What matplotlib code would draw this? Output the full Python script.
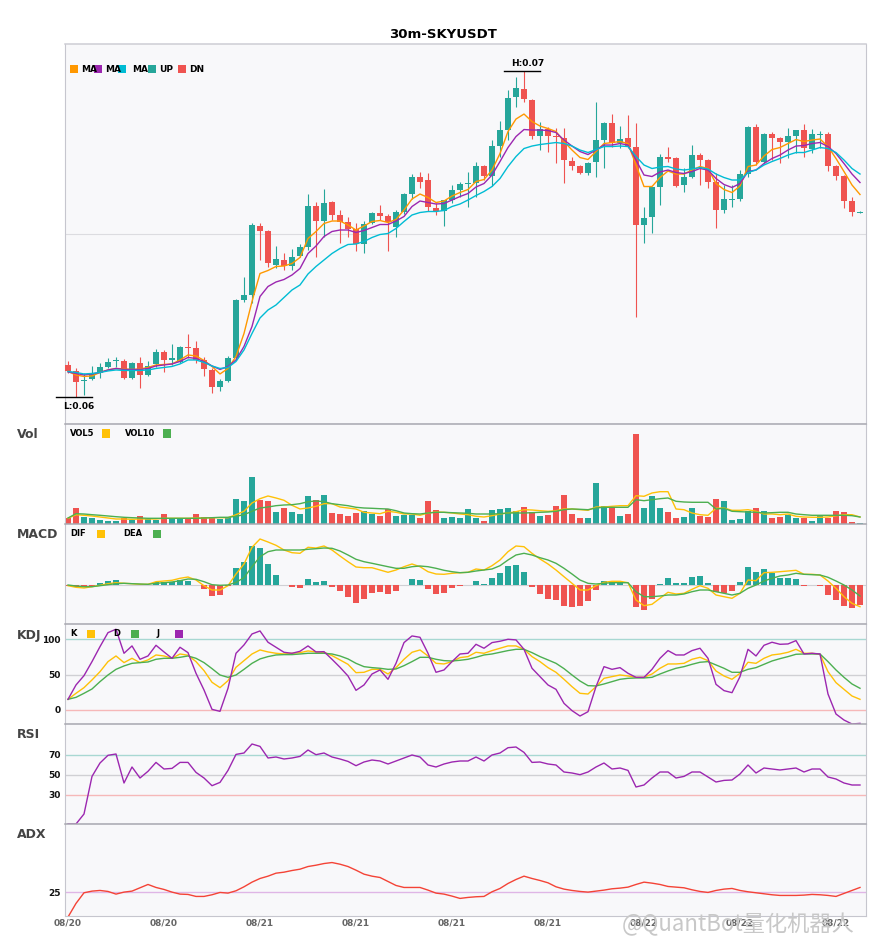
import numpy as np
import matplotlib
matplotlib.use('Agg')
import matplotlib.pyplot as plt
from matplotlib.patches import Rectangle

plt.rcParams['font.family'] = ['DejaVu Sans']

# ---- datos (velas de 30m) ----
open_ = [0.06064, 0.06052, 0.06031, 0.06036, 0.06048, 0.06060, 0.06071, 0.06072, 0.06038, 0.06068,
         0.06044, 0.06066, 0.06090, 0.06074, 0.06070, 0.06099, 0.06098, 0.06074, 0.06054, 0.06020,
         0.06032, 0.06078, 0.06194, 0.06204, 0.06342, 0.06332, 0.06264, 0.06274, 0.06262, 0.06282,
         0.06300, 0.06382, 0.06352, 0.06390, 0.06364, 0.06350, 0.06336, 0.06306, 0.06348, 0.06368,
         0.06362, 0.06340, 0.06370, 0.06406, 0.06440, 0.06434, 0.06378, 0.06372, 0.06394, 0.06414,
         0.06427, 0.06428, 0.06462, 0.06442, 0.06502, 0.06534, 0.06600, 0.06616, 0.06594, 0.06522,
         0.06536, 0.06521, 0.06518, 0.06472, 0.06462, 0.06448, 0.06470, 0.06514, 0.06548, 0.06508,
         0.06518, 0.06500, 0.06344, 0.06360, 0.06420, 0.06480, 0.06478, 0.06424, 0.06440, 0.06484,
         0.06474, 0.06430, 0.06374, 0.06395, 0.06396, 0.06446, 0.06540, 0.06470, 0.06526, 0.06518,
         0.06510, 0.06522, 0.06534, 0.06496, 0.06525, 0.06526, 0.06462, 0.06442, 0.06392, 0.06369]

high = [0.06072, 0.06058, 0.06048, 0.06062, 0.06068, 0.06078, 0.06080, 0.06076, 0.06070, 0.06080,
        0.06072, 0.06096, 0.06094, 0.06106, 0.06102, 0.06126, 0.06112, 0.06080, 0.06058, 0.06036,
        0.06082, 0.06196, 0.06240, 0.06348, 0.06348, 0.06334, 0.06302, 0.06288, 0.06296, 0.06306,
        0.06406, 0.06390, 0.06416, 0.06392, 0.06374, 0.06360, 0.06348, 0.06352, 0.06370, 0.06384,
        0.06366, 0.06374, 0.06408, 0.06446, 0.06450, 0.06448, 0.06388, 0.06394, 0.06424, 0.06430,
        0.06450, 0.06470, 0.06464, 0.06514, 0.06552, 0.06614, 0.06640, 0.06652, 0.06596, 0.06550,
        0.06540, 0.06538, 0.06538, 0.06480, 0.06464, 0.06470, 0.06590, 0.06550, 0.06566, 0.06542,
        0.06564, 0.06548, 0.06380, 0.06420, 0.06486, 0.06500, 0.06480, 0.06458, 0.06504, 0.06488,
        0.06476, 0.06448, 0.06424, 0.06424, 0.06454, 0.06542, 0.06546, 0.06528, 0.06530, 0.06520,
        0.06538, 0.06534, 0.06546, 0.06536, 0.06532, 0.06530, 0.06464, 0.06444, 0.06400, 0.06372]

low = [0.06048, 0.06000, 0.06004, 0.06034, 0.06038, 0.06058, 0.06060, 0.06036, 0.06036, 0.06018,
       0.06042, 0.06060, 0.06050, 0.06064, 0.06068, 0.06078, 0.06068, 0.06042, 0.06008, 0.06012,
       0.06030, 0.06074, 0.06190, 0.06188, 0.06274, 0.06260, 0.06258, 0.06254, 0.06254, 0.06280,
       0.06294, 0.06280, 0.06320, 0.06354, 0.06308, 0.06320, 0.06292, 0.06288, 0.06346, 0.06354,
       0.06292, 0.06320, 0.06366, 0.06396, 0.06418, 0.06372, 0.06364, 0.06342, 0.06388, 0.06400,
       0.06380, 0.06400, 0.06434, 0.06422, 0.06480, 0.06514, 0.06580, 0.06590, 0.06516, 0.06494,
       0.06490, 0.06468, 0.06428, 0.06454, 0.06446, 0.06444, 0.06440, 0.06458, 0.06500, 0.06498,
       0.06498, 0.06160, 0.06308, 0.06328, 0.06384, 0.06470, 0.06420, 0.06410, 0.06438, 0.06424,
       0.06418, 0.06338, 0.06368, 0.06380, 0.06392, 0.06440, 0.06464, 0.06468, 0.06474, 0.06468,
       0.06478, 0.06488, 0.06480, 0.06488, 0.06498, 0.06452, 0.06434, 0.06378, 0.06362, 0.06368]

close = [0.06052, 0.06030, 0.06032, 0.06048, 0.06060, 0.06070, 0.06072, 0.06038, 0.06068, 0.06044,
         0.06062, 0.06090, 0.06074, 0.06078, 0.06100, 0.06098, 0.06074, 0.06056, 0.06020, 0.06032,
         0.06078, 0.06194, 0.06204, 0.06344, 0.06332, 0.06268, 0.06276, 0.06262, 0.06280, 0.06300,
         0.06382, 0.06352, 0.06388, 0.06364, 0.06350, 0.06336, 0.06306, 0.06346, 0.06368, 0.06362,
         0.06350, 0.06370, 0.06406, 0.06440, 0.06430, 0.06380, 0.06372, 0.06394, 0.06414, 0.06426,
         0.06428, 0.06462, 0.06442, 0.06502, 0.06534, 0.06598, 0.06618, 0.06596, 0.06522, 0.06536,
         0.06522, 0.06520, 0.06474, 0.06462, 0.06448, 0.06468, 0.06514, 0.06548, 0.06508, 0.06516,
         0.06500, 0.06344, 0.06358, 0.06420, 0.06480, 0.06476, 0.06422, 0.06440, 0.06484, 0.06474,
         0.06430, 0.06374, 0.06396, 0.06396, 0.06446, 0.06540, 0.06470, 0.06526, 0.06518, 0.06510,
         0.06522, 0.06534, 0.06498, 0.06526, 0.06526, 0.06462, 0.06442, 0.06392, 0.06370, 0.06370]

ma5 = [0.06051, 0.06044, 0.06041, 0.06042, 0.06049, 0.06054, 0.06057, 0.06056, 0.06055, 0.06056,
       0.06059, 0.06064, 0.06065, 0.06066, 0.06074, 0.06084, 0.06082, 0.06073, 0.06061, 0.06046,
       0.06057, 0.06081, 0.06127, 0.06191, 0.06247, 0.06253, 0.06261, 0.06262, 0.06267, 0.06279,
       0.06317, 0.06331, 0.06347, 0.06352, 0.06352, 0.06344, 0.06334, 0.06342, 0.06351, 0.06353,
       0.06349, 0.06355, 0.06374, 0.06396, 0.06406, 0.06399, 0.06389, 0.06392, 0.06402, 0.06409,
       0.06415, 0.06431, 0.06435, 0.06454, 0.06487, 0.06531, 0.06556, 0.06566, 0.06551, 0.06542,
       0.06537, 0.06531, 0.06511, 0.06494, 0.06479, 0.06475, 0.06491, 0.06507, 0.06509, 0.06511,
       0.06507, 0.06464, 0.06421, 0.06421, 0.06439, 0.06452, 0.06446, 0.06446, 0.06454, 0.06461,
       0.06457, 0.06427, 0.06415, 0.06409, 0.06422, 0.06461, 0.06464, 0.06482, 0.06495, 0.06499,
       0.06507, 0.06515, 0.06511, 0.06514, 0.06516, 0.06501, 0.06477, 0.06451, 0.06424, 0.06405]

ma7 = [0.06050, 0.06047, 0.06044, 0.06046, 0.06049, 0.06054, 0.06057, 0.06055, 0.06055, 0.06055,
       0.06057, 0.06062, 0.06064, 0.06066, 0.06071, 0.06079, 0.06077, 0.06071, 0.06062, 0.06055,
       0.06061, 0.06074, 0.06101, 0.06141, 0.06201, 0.06221, 0.06230, 0.06235, 0.06244, 0.06257,
       0.06287, 0.06302, 0.06321, 0.06331, 0.06334, 0.06334, 0.06329, 0.06333, 0.06339, 0.06345,
       0.06345, 0.06352, 0.06361, 0.06381, 0.06392, 0.06389, 0.06386, 0.06387, 0.06394, 0.06401,
       0.06407, 0.06420, 0.06427, 0.06444, 0.06471, 0.06499, 0.06521, 0.06535, 0.06534, 0.06534,
       0.06533, 0.06529, 0.06514, 0.06502, 0.06491, 0.06485, 0.06494, 0.06504, 0.06504, 0.06507,
       0.06504, 0.06474, 0.06444, 0.06441, 0.06450, 0.06454, 0.06449, 0.06447, 0.06451, 0.06457,
       0.06454, 0.06437, 0.06425, 0.06419, 0.06427, 0.06451, 0.06454, 0.06467, 0.06477, 0.06484,
       0.06494, 0.06502, 0.06503, 0.06507, 0.06509, 0.06501, 0.06487, 0.06467, 0.06446, 0.06429]

ma10 = [0.06051, 0.06049, 0.06046, 0.06047, 0.06049, 0.06052, 0.06054, 0.06053, 0.06053, 0.06053,
        0.06054, 0.06057, 0.06059, 0.06061, 0.06066, 0.06074, 0.06074, 0.06069, 0.06062, 0.06057,
        0.06059, 0.06071, 0.06094, 0.06127, 0.06158, 0.06174, 0.06184, 0.06199, 0.06214, 0.06224,
        0.06246, 0.06261, 0.06274, 0.06287, 0.06297, 0.06305, 0.06306, 0.06311, 0.06319, 0.06325,
        0.06327, 0.06337, 0.06351, 0.06364, 0.06369, 0.06371, 0.06371, 0.06373, 0.06381, 0.06386,
        0.06394, 0.06403, 0.06411, 0.06421, 0.06437, 0.06461, 0.06481, 0.06497, 0.06502, 0.06505,
        0.06507, 0.06509, 0.06507, 0.06502, 0.06494, 0.06489, 0.06495, 0.06501, 0.06501, 0.06502,
        0.06501, 0.06481, 0.06464, 0.06457, 0.06460, 0.06461, 0.06456, 0.06454, 0.06456, 0.06459,
        0.06456, 0.06446, 0.06439, 0.06434, 0.06434, 0.06449, 0.06454, 0.06464, 0.06471, 0.06477,
        0.06484, 0.06489, 0.06489, 0.06494, 0.06499, 0.06497, 0.06489, 0.06474, 0.06457, 0.06446]

volume = [6.0, 16.0, 7.3, 6.0, 4.3, 3.3, 3.3, 5.7, 4.3, 8.0,
          5.0, 3.7, 10.0, 5.3, 5.3, 5.3, 10.0, 6.7, 7.0, 4.7,
          6.7, 25.3, 22.7, 47.3, 24.3, 23.3, 12.3, 16.3, 12.3, 10.3,
          28.3, 24.3, 29.3, 11.3, 10.3, 8.3, 11.3, 13.3, 10.3, 8.3,
          15.0, 8.3, 9.3, 9.3, 6.3, 23.3, 13.7, 6.3, 7.3, 6.3,
          15.3, 6.3, 3.3, 14.3, 15.3, 16.3, 13.3, 17.3, 12.3, 8.3,
          9.3, 18.3, 29.3, 10.3, 6.3, 6.3, 41.3, 18.3, 17.3, 8.3,
          10.3, 90.3, 16.3, 28.3, 16.3, 12.3, 6.3, 7.3, 16.3, 8.3,
          7.3, 25.3, 23.3, 4.3, 5.3, 13.3, 16.3, 13.3, 6.3, 7.3,
          9.3, 6.3, 6.3, 3.3, 9.3, 6.3, 13.3, 12.3, 2.3, 0.7]

vol5 = [5.7, 9.3, 8.7, 8.0, 7.0, 6.0, 5.0, 5.0, 4.7, 5.0,
        5.0, 5.0, 5.7, 5.7, 5.7, 5.7, 6.0, 6.0, 6.3, 6.3,
        6.3, 9.3, 12.7, 21.0, 25.3, 28.0, 26.0, 23.7, 18.7, 15.0,
        16.0, 17.7, 20.3, 20.3, 17.0, 16.0, 15.0, 11.7, 11.0, 10.3,
        12.7, 11.7, 10.0, 10.0, 8.7, 11.0, 12.0, 11.7, 11.0, 10.0,
        9.3, 7.7, 7.0, 8.3, 10.0, 11.0, 12.3, 14.3, 14.0, 13.3,
        12.7, 13.3, 15.0, 15.0, 14.3, 13.7, 17.0, 17.0, 17.7, 18.3,
        18.3, 28.3, 27.7, 31.0, 32.3, 32.3, 15.0, 14.3, 11.0, 9.3,
        8.7, 15.7, 16.0, 13.7, 13.7, 14.3, 12.7, 10.0, 10.0, 9.3,
        10.0, 7.7, 7.0, 6.7, 6.7, 7.0, 8.3, 9.3, 9.3, 7.0]

vol10 = [6.0, 10.3, 10.0, 9.3, 8.7, 8.0, 7.3, 6.7, 6.3, 6.0,
         5.7, 5.7, 5.7, 5.7, 5.7, 5.7, 5.7, 6.0, 6.3, 6.7,
         6.7, 7.7, 9.3, 12.7, 16.0, 17.0, 18.3, 19.0, 19.3, 20.3,
         22.3, 23.0, 22.3, 20.3, 19.3, 18.3, 16.7, 16.0, 15.7, 15.3,
         15.0, 13.3, 11.0, 10.3, 10.0, 11.0, 11.7, 11.7, 11.3, 11.0,
         10.7, 10.0, 10.0, 10.0, 10.3, 11.0, 11.0, 11.0, 11.3, 11.7,
         12.0, 12.7, 14.3, 15.0, 14.7, 14.3, 16.0, 16.7, 16.7, 16.7,
         16.7, 24.3, 23.3, 24.3, 25.3, 26.0, 22.7, 22.0, 21.7, 21.7,
         21.7, 15.0, 15.7, 12.7, 12.3, 12.0, 11.7, 11.0, 11.3, 11.7,
         11.7, 10.0, 9.3, 8.7, 8.7, 8.7, 8.7, 8.7, 8.3, 7.0]

# MACD en unidades de 1e-5
macd_hist = [-1.0, -1.7, -2.3, -1.0, 1.7, 3.7, 5.0, 0.3, 0.3, -0.3,
             0.3, 3.3, 3.3, 3.3, 4.7, 4.0, 0.3, -4.3, -10.7, -9.7,
             -0.7, 17.3, 23.3, 39.3, 37.3, 21.0, 10.0, 0.3, -2.3, -3.3,
             6.0, 3.3, 4.0, -1.7, -6.3, -11.7, -17.7, -13.7, -7.7, -7.0,
             -8.7, -5.7, 0.3, 6.0, 5.0, -3.7, -8.7, -8.0, -3.3, -0.7,
             0.0, 4.0, 1.0, 7.0, 12.0, 19.0, 20.0, 13.0, -2.3, -8.7,
             -13.7, -14.7, -20.7, -21.7, -20.7, -15.7, -4.7, 3.7, 2.7, 2.7,
             -0.3, -21.7, -24.7, -13.7, 1.0, 7.0, 2.0, 2.0, 8.0, 9.0,
             2.0, -6.7, -8.0, -5.7, 3.0, 18.0, 13.0, 15.7, 11.7, 7.0,
             7.0, 6.0, -0.7, 0.0, -0.7, -9.7, -14.7, -20.7, -22.7, -19.7]

dif = [-0.7, -2.3, -3.0, -1.7, -0.3, 1.3, 2.3, 1.7, 1.3, 0.7,
       0.7, 3.3, 4.0, 4.7, 6.7, 8.0, 5.0, -0.7, -5.0, -5.0,
       -0.7, 11.0, 21.0, 37.7, 46.0, 43.0, 39.7, 35.0, 32.3, 31.7,
       37.7, 37.0, 39.0, 35.0, 29.0, 23.3, 18.0, 17.3, 17.3, 15.0,
       12.7, 15.0, 18.3, 21.0, 18.3, 13.3, 11.0, 10.7, 11.7, 12.3,
       12.7, 16.0, 15.0, 19.3, 25.0, 33.3, 39.0, 38.3, 31.7, 26.0,
       21.0, 15.0, 8.3, 1.7, -5.0, -5.0, -0.7, 2.7, 3.7, 3.7,
       2.3, -15.0, -20.7, -19.3, -13.3, -7.3, -9.0, -8.3, -4.3, -0.7,
       -3.3, -10.0, -11.7, -13.3, -8.3, 5.0, 4.3, 12.3, 12.7, 13.3,
       14.0, 14.7, 10.7, 10.7, 10.0, 4.0, -3.3, -11.7, -18.3, -21.7]

dea = [0.0, -1.0, -1.7, -1.7, -0.7, 0.3, 1.3, 1.7, 1.3, 1.0,
       0.7, 1.7, 2.3, 3.0, 4.3, 6.0, 5.7, 3.3, 0.3, -0.3,
       0.0, 2.7, 7.3, 18.3, 28.3, 33.3, 35.0, 35.0, 35.0, 35.0,
       35.7, 36.3, 37.0, 36.7, 34.0, 30.0, 25.7, 23.3, 21.7, 20.0,
       18.3, 16.7, 16.7, 18.3, 19.0, 18.3, 16.7, 14.7, 13.3, 12.3,
       12.7, 14.0, 15.0, 16.0, 19.3, 25.0, 30.0, 31.7, 30.0, 27.3,
       25.0, 21.7, 16.7, 11.0, 5.0, 1.7, 1.0, 1.7, 2.3, 2.3,
       2.3, -6.7, -11.7, -11.7, -11.0, -10.0, -10.0, -9.0, -6.7, -5.0,
       -5.0, -6.7, -8.3, -10.0, -8.3, -3.3, 0.0, 4.0, 6.7, 9.0,
       10.0, 11.7, 10.7, 10.3, 10.0, 7.7, 4.0, 0.0, -5.0, -11.0]

k_line = [15.1, 23.6, 31.6, 42.5, 54.2, 68.4, 76.4, 67.0, 73.1, 67.0,
          70.8, 77.8, 76.4, 73.1, 79.2, 77.4, 68.4, 55.7, 39.2, 31.6,
          41.5, 60.4, 69.8, 79.2, 84.9, 82.1, 80.2, 79.2, 80.2, 81.1,
          83.5, 82.1, 81.6, 76.9, 70.8, 64.6, 52.8, 53.3, 57.5, 57.5,
          50.9, 59.9, 71.7, 81.6, 84.9, 76.4, 66.0, 65.1, 68.4, 74.1,
          75.5, 81.6, 80.2, 84.0, 87.3, 90.6, 90.6, 85.8, 75.5, 68.4,
          59.9, 53.3, 43.4, 33.0, 23.6, 22.6, 33.0, 44.8, 47.2, 49.5,
          48.1, 46.2, 46.2, 50.9, 59.0, 65.1, 65.1, 66.0, 71.7, 74.5,
          69.8, 55.2, 48.1, 43.4, 51.9, 67.5, 66.0, 73.1, 77.8, 79.2,
          81.6, 85.8, 80.2, 80.2, 78.8, 54.2, 38.7, 29.2, 19.8, 15.1]

d_line = [15.1, 17.9, 23.6, 29.7, 40.1, 49.5, 57.5, 62.3, 66.0, 67.0,
          67.9, 71.7, 73.1, 73.1, 74.5, 76.4, 73.1, 67.0, 58.5, 49.5,
          46.2, 49.5, 57.5, 66.0, 72.2, 75.5, 77.8, 78.3, 78.3, 79.2,
          80.2, 80.2, 80.2, 79.2, 76.4, 72.2, 66.0, 61.3, 59.9, 59.0,
          57.5, 58.0, 62.7, 68.4, 74.5, 74.5, 71.7, 69.8, 69.3, 70.3,
          71.7, 74.5, 77.8, 79.2, 81.6, 84.0, 85.8, 85.8, 81.1, 75.5,
          70.8, 66.0, 58.5, 49.5, 41.0, 34.4, 34.0, 36.8, 40.1, 43.4,
          44.8, 45.3, 45.3, 46.2, 50.9, 55.2, 59.0, 61.3, 64.6, 67.5,
          68.4, 63.7, 59.0, 53.3, 53.3, 57.5, 59.9, 64.6, 69.3, 72.6,
          75.5, 78.8, 79.2, 79.2, 79.2, 68.4, 56.6, 46.2, 36.8, 30.7]

j_line = [15.1, 35.4, 48.6, 68.4, 89.6, 109.4, 114.2, 80.2, 90.6, 71.7,
          76.4, 91.5, 82.1, 73.1, 88.7, 81.1, 51.9, 28.3, 0.9, -1.9,
          30.7, 80.2, 92.0, 107.5, 111.8, 95.8, 88.7, 81.6, 80.2, 83.0,
          90.6, 82.1, 82.5, 71.7, 60.4, 48.1, 27.8, 35.4, 50.9, 56.6,
          43.4, 66.0, 95.3, 104.7, 102.8, 80.2, 53.3, 56.6, 68.4, 79.2,
          80.2, 92.9, 87.3, 95.3, 97.2, 100.0, 99.1, 85.8, 59.0, 47.2,
          35.4, 29.2, 9.4, -0.9, -8.5, -2.4, 33.0, 61.3, 57.5, 59.9,
          51.9, 46.2, 46.2, 57.5, 73.1, 84.0, 77.8, 77.8, 84.0, 87.3,
          73.1, 36.3, 27.4, 24.5, 47.2, 85.8, 76.4, 91.5, 95.8, 92.9,
          93.4, 98.1, 79.2, 80.2, 79.2, 22.6, -5.7, -14.2, -19.8, -18.9]

rsi = [1.0, 1.0, 11.0, 48.6, 62.0, 69.7, 71.0, 42.0, 58.0, 47.0,
       53.7, 62.6, 56.0, 56.6, 62.6, 62.6, 52.6, 47.0, 39.3, 42.6,
       54.6, 70.6, 72.0, 81.0, 78.6, 67.0, 68.0, 66.0, 67.0, 68.6,
       75.0, 70.3, 72.0, 68.0, 66.0, 63.6, 59.3, 63.0, 65.0, 64.0,
       61.0, 64.0, 67.0, 70.0, 68.0, 60.0, 58.0, 61.0, 63.0, 64.0,
       64.0, 68.0, 64.0, 70.0, 72.0, 77.3, 78.0, 72.6, 62.6, 63.0,
       61.0, 60.0, 53.0, 52.0, 50.3, 53.0, 58.0, 62.0, 56.0, 57.0,
       54.6, 38.0, 40.0, 47.0, 53.0, 53.0, 47.0, 48.6, 53.0, 53.0,
       48.0, 43.0, 44.6, 45.0, 51.0, 60.0, 52.0, 57.0, 56.0, 55.0,
       56.0, 57.0, 53.0, 56.0, 56.0, 48.0, 46.0, 42.0, 40.0, 40.0]

adx = [17.5, 21.6, 24.8, 25.3, 25.5, 25.2, 24.4, 25.0, 25.3, 26.3,
       27.3, 26.4, 25.8, 25.0, 24.4, 24.3, 23.7, 23.7, 24.2, 24.9,
       24.7, 25.4, 26.6, 28.0, 29.1, 29.8, 30.7, 31.0, 31.5, 31.9,
       32.7, 33.1, 33.6, 33.9, 33.4, 32.7, 31.6, 30.4, 29.8, 29.4,
       28.2, 27.0, 26.4, 26.4, 26.4, 25.6, 24.7, 24.4, 23.8, 23.1,
       23.4, 23.6, 23.7, 25.1, 26.1, 27.6, 28.8, 29.8, 29.1, 28.5,
       27.8, 26.6, 25.9, 25.5, 25.2, 25.0, 25.3, 25.6, 26.0, 26.2,
       26.5, 27.3, 28.0, 27.7, 27.3, 26.7, 26.5, 26.3, 25.7, 25.2,
       24.9, 25.5, 25.9, 26.1, 25.5, 25.1, 24.8, 24.5, 24.2, 24.0,
       24.0, 24.0, 24.1, 24.3, 24.2, 24.0, 23.7, 24.6, 25.5, 26.4]

tick_labels = ['08/20', '08/20', '08/21', '08/21', '08/21', '08/21', '08/22', '08/22', '08/22']
kdj_levels = [100, 50, 0]
rsi_levels = [70, 50, 30]
adx_level = 25

# ---- colores ----
TEAL = '#26a69a'
RED = '#ef5350'
C_MA5 = '#ff9800'
C_MA7 = '#9c27b0'
C_MA10 = '#00bcd4'
YEL = '#ffc107'
GRN = '#4caf50'
PUR = '#9c27b0'
BG = '#f8f8fa'
LVL_COLORS = ['#a8d8d2', '#d0d0d4', '#f6b8b8']

W, H = 885, 950
fig = plt.figure(figsize=(8.85, 9.5), dpi=100)
fig.patch.set_facecolor('white')

o = np.array(open_)
c = np.array(close)
x = np.arange(len(c))
up = c >= o
colors = np.where(up, TEAL, RED)


def panel(top, bottom, top_color='#a8a8b0'):
    ax = fig.add_axes([65 / W, 1 - bottom / H, 801 / W, (bottom - top) / H])
    ax.set_facecolor(BG)
    ax.set_xlim(-0.375, 99.75)
    for s in ax.spines.values():
        s.set_color('#c6c6ce')
        s.set_linewidth(0.8)
    ax.spines['top'].set_color(top_color)
    ax.spines['top'].set_linewidth(1.1)
    ax.tick_params(length=0, pad=3)
    ax.set_xticks([])
    ax.set_yticks([])
    return ax


def ftext(xp, yp, s, **kw):
    fig.text(xp / W, 1 - yp / H, s, va='center', **kw)


def square(xp, ytop, color):
    fig.add_artist(Rectangle((xp / W, 1 - (ytop + 8) / H), 8 / W, 8 / H,
                             transform=fig.transFigure, color=color, lw=0))


def set_levels(ax, levels):
    for lv, col in zip(levels, LVL_COLORS):
        ax.axhline(lv, color=col, lw=1.0, zorder=1)
    ax.set_yticks(levels)
    ax.set_yticklabels([str(v) for v in levels], fontsize=6.5, fontweight='bold', color='#111111')


# ---- panel principal: velas ----
ax = panel(44, 424, top_color='#cdcdd4')
ax.vlines(x, low, high, color=colors, lw=0.8, zorder=2)
body_bot = np.minimum(o, c)
body_h = np.maximum(np.abs(c - o), 0.00002)
ax.bar(x, body_h, bottom=body_bot, width=0.75, color=colors, linewidth=0, zorder=3)
ax.plot(x, ma5, color=C_MA5, lw=1.0, zorder=4)
ax.plot(x, ma7, color=C_MA7, lw=1.0, zorder=4)
ax.plot(x, ma10, color=C_MA10, lw=1.0, zorder=4)
lo, hi = min(low), max(high)
pad = (hi - lo) * 0.083
ax.set_ylim(lo - pad, hi + pad)
ax.axhline((lo + hi) / 2, color='#dcdce0', lw=0.8, zorder=1)

ih = int(np.argmax(high))
il = int(np.argmin(low))
ax.plot([ih - 2.5, ih + 2], [hi, hi], color='black', lw=1.0, clip_on=False, zorder=5)
ax.annotate('H:%.2f' % hi, xy=(ih + 0.5, hi), xytext=(0, 2.5), textcoords='offset points',
            ha='center', va='bottom', fontsize=6.5, fontweight='bold')
ax.plot([il - 2.5, il + 2], [lo, lo], color='black', lw=1.0, clip_on=False, zorder=5)
ax.annotate('L:%.2f' % lo, xy=(il + 0.4, lo), xytext=(0, -3.5), textcoords='offset points',
            ha='center', va='top', fontsize=6.5, fontweight='bold')

for sx, tx, col, lab in [(70, 81, C_MA5, 'MA'), (94, 105, C_MA7, 'MA'), (118, 132, C_MA10, 'MA'),
                         (148, 159, TEAL, 'UP'), (178, 189, RED, 'DN')]:
    ftext(tx, 69, lab, fontsize=6.5, fontweight='bold')
    square(sx, 65, col)

ftext(443, 34, '30m-SKYUSDT', ha='center', fontsize=9.5, fontweight='bold')

# ---- volumen ----
ax_v = panel(424, 524)
ax_v.bar(x, volume, width=0.68, color=colors, linewidth=0, zorder=2)
ax_v.plot(x, vol5, color=YEL, lw=1.0, zorder=3)
ax_v.plot(x, vol10, color=GRN, lw=1.0, zorder=3)
ax_v.set_ylim(0, max(volume) * 1.107)
ftext(70, 433.5, 'VOL5', fontsize=6, fontweight='bold')
square(101.5, 429.5, YEL)
ftext(125, 433.5, 'VOL10', fontsize=6, fontweight='bold')
square(163, 429.5, GRN)

# ---- MACD ----
ax_m = panel(524, 624)
hist = np.array(macd_hist)
ax_m.bar(x, hist, width=0.68, color=np.where(hist >= 0, TEAL, RED), linewidth=0, zorder=2)
ax_m.axhline(0, color='#d0d0d4', lw=0.8, zorder=1)
ax_m.plot(x, dif, color=YEL, lw=1.0, zorder=3)
ax_m.plot(x, dea, color=GRN, lw=1.0, zorder=3)
ax_m.set_ylim(-39, 61)
ftext(70, 534, 'DIF', fontsize=6, fontweight='bold')
square(97, 529.5, YEL)
ftext(123, 534, 'DEA', fontsize=6, fontweight='bold')
square(153, 529.5, GRN)

# ---- KDJ ----
ax_k = panel(624, 724)
set_levels(ax_k, kdj_levels)
ax_k.plot(x, k_line, color=YEL, lw=1.0, zorder=3)
ax_k.plot(x, d_line, color=GRN, lw=1.0, zorder=3)
ax_k.plot(x, j_line, color=PUR, lw=1.0, zorder=4)
ax_k.set_ylim(-19.8, 121.6)
ftext(70.5, 634, 'K', fontsize=6, fontweight='bold')
square(87, 629.5, YEL)
ftext(113, 634, 'D', fontsize=6, fontweight='bold')
square(131, 629.5, GRN)
ftext(156.5, 634, 'J', fontsize=6, fontweight='bold')
square(175, 629.5, PUR)

# ---- RSI ----
ax_r = panel(724, 824)
set_levels(ax_r, rsi_levels)
ax_r.plot(x, rsi, color=PUR, lw=1.0, zorder=3)
ax_r.set_ylim(1, 101)

# ---- ADX ----
ax_a = panel(824, 915.7)
ax_a.axhline(adx_level, color='#dfb6e6', lw=1.0, zorder=1)
ax_a.set_yticks([adx_level])
ax_a.set_yticklabels([str(adx_level)], fontsize=6.5, fontweight='bold', color='#111111')
ax_a.plot(x, adx, color='#f44336', lw=1.0, zorder=3)
ax_a.set_ylim(17.9, 45.5)
ax_a.set_xticks(x[::12])
ax_a.set_xticklabels(tick_labels, fontsize=6.5, fontweight='bold', color='#666666')
ax_a.tick_params(axis='x', pad=2)

# etiquetas de los paneles
for yp, lab in [(435, 'Vol'), (535, 'MACD'), (635, 'KDJ'), (735, 'RSI'), (835, 'ADX')]:
    ftext(17, yp, lab, fontsize=9, fontweight='bold', color='#444444')

# marca de agua
fig.text(622 / W, 1 - 925 / H, '@QuantBot量化机器人', va='center', fontsize=16,
         color='#c8c8c8', family=['Noto Sans CJK SC', 'DejaVu Sans'])

fig.savefig('out.png', dpi=100, facecolor='white')
